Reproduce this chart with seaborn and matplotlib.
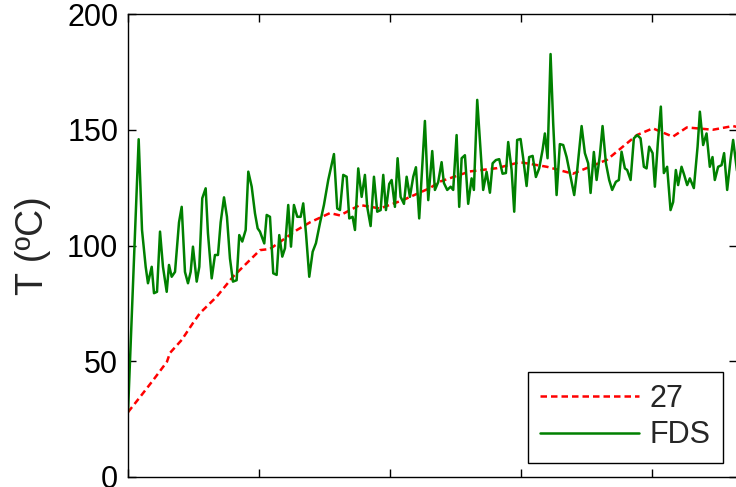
import matplotlib
matplotlib.use("Agg")
import matplotlib.pyplot as plt
import seaborn as sns
import pandas as pd
import numpy as np

# ---- data (time in s, temperature in ºC) ----
t_27 = [0, 18.8, 38.6, 59.5, 64.1, 82.0, 99.2, 109.9, 135.5, 160.3, 201.5, 216.8,
        258.0, 277.9, 308.4, 323.7, 354.2, 384.7, 419.8, 461.0, 476.3, 522.1,
        563.3, 598.5, 639.7, 679.4, 731.3, 777.1, 801.5, 832.0, 853.4, 893.1,
        923.6, 934.0]
T_27 = [28.0, 34.7, 41.9, 49.8, 53.6, 59.2, 66.5, 70.8, 77.9, 86.5, 98.0, 98.5,
        106.7, 110.0, 114.0, 113.0, 117.5, 116.0, 119.6, 124.8, 127.6, 132.0,
        133.4, 136.0, 134.0, 131.0, 137.0, 147.7, 150.6, 147.0, 151.0, 150.0,
        151.6, 151.0]

t_fds = [0, 16.3, 21.4, 27.0, 30.5, 36.2, 39.7, 44.3, 48.9, 53.4, 59.1, 62.6, 66.7,
         71.8, 77.9, 82.0, 87.0, 91.6, 95.7, 99.2, 104.9, 108.9, 113.4, 118.6,
         122.1, 127.8, 132.8, 137.4, 141.5, 146.6, 151.1, 155.7, 160.3, 165.9,
         169.9, 174.5, 179.7, 183.7, 188.9, 193.9, 198.0, 201.5, 208.1, 211.8,
         216.8, 221.8, 227.0, 231.0, 235.6, 239.7, 244.7, 248.9, 253.4, 258.5,
         263.7, 267.6, 271.8, 276.8, 282.0, 287.0, 293.1, 299.2, 305.8, 314.5,
         319.5, 323.7, 328.7, 333.9, 337.9, 343.0, 346.6, 351.6, 356.8, 361.8,
         365.3, 370.5, 375.6, 380.6, 385.8, 389.8, 393.9, 398.9, 402.6, 407.6,
         411.7, 416.3, 421.4, 425.5, 430.5, 435.6, 439.7, 444.7, 453.4, 458.5,
         464.6, 468.7, 473.7, 478.9, 482.4, 487.5, 492.7, 496.6, 501.8, 505.8,
         509.5, 514.5, 519.5, 524.7, 528.2, 533.3, 538.5, 542.4, 547.6, 552.7,
         556.8, 561.8, 566.9, 572.0, 577.1, 580.6, 585.8, 589.8, 594.3, 599.5,
         603.5, 608.7, 612.6, 617.9, 622.9, 627.9, 633.1, 636.6, 640.7, 645.3,
         649.3, 654.5, 659.5, 664.6, 669.8, 675.9, 681.4, 686.0, 692.7, 697.7,
         702.7, 706.4, 711.4, 715.6, 720.6, 724.7, 729.8, 734.8, 739.4, 745.0,
         749.6, 753.7, 758.8, 762.3, 767.5, 772.5, 777.6, 782.7, 787.8, 791.9,
         795.9, 801.1, 804.6, 809.1, 813.7, 818.3, 823.3, 828.5, 832.5, 836.6,
         840.1, 845.3, 848.8, 853.9, 858.0, 864.1, 869.8, 873.3, 878.3, 883.5,
         888.5, 892.6, 896.1, 901.2, 906.4, 910.3, 915.0, 920.2, 924.1, 931.0]
T_fds = [28.0, 145.9, 106.7, 90.8, 83.7, 90.8, 79.4, 80.0, 106.0, 90.8, 80.0, 91.6,
         86.5, 88.6, 110.0, 116.7, 88.6, 83.7, 88.6, 99.5, 84.4, 90.8, 120.4,
         124.7, 105.3, 85.8, 95.9, 95.9, 110.0, 120.8, 112.4, 94.4, 84.4, 85.0,
         104.5, 101.7, 106.7, 131.9, 125.4, 113.9, 107.4, 106.0, 100.9, 113.2,
         112.4, 88.0, 87.3, 104.5, 95.2, 98.8, 117.5, 99.5, 117.5, 112.4, 112.4,
         118.2, 105.3, 86.5, 97.3, 101.0, 109.6, 117.5, 128.3, 139.5, 116.0,
         115.3, 130.5, 129.7, 111.7, 112.4, 106.7, 133.3, 121.0, 130.5, 116.7,
         108.4, 129.7, 114.6, 115.3, 130.5, 115.3, 126.6, 128.3, 116.7, 137.7,
         121.0, 118.0, 129.7, 121.0, 129.7, 133.8, 111.7, 153.8, 119.6, 140.8,
         124.0, 127.4, 136.0, 127.0, 124.0, 125.4, 124.0, 147.7, 116.7, 137.7,
         139.0, 118.0, 129.0, 124.0, 162.9, 140.5, 124.0, 131.8, 122.8, 135.5,
         136.9, 137.3, 131.0, 131.3, 144.7, 132.6, 114.6, 145.6, 146.0, 137.7,
         125.7, 138.2, 138.7, 129.6, 133.3, 141.3, 148.4, 137.7, 182.7, 152.8,
         121.8, 143.8, 143.4, 138.2, 129.6, 121.8, 132.6, 151.6, 139.9, 135.5,
         122.7, 140.4, 128.3, 139.0, 151.6, 135.6, 128.3, 124.0, 127.5, 128.3,
         140.5, 133.3, 132.6, 128.3, 146.3, 147.7, 146.3, 134.0, 133.3, 142.7,
         139.9, 125.4, 144.3, 160.0, 131.3, 134.0, 115.3, 118.8, 132.6, 126.1,
         134.0, 131.0, 126.1, 129.0, 124.8, 142.7, 157.8, 143.4, 148.4, 134.0,
         138.2, 128.3, 134.0, 134.7, 139.9, 124.0, 137.3, 145.6, 130.0]

series_labels = ["27", "FDS"]
y_ticks = [0, 50, 100, 150, 200]
x_ticks = [0, 200, 400, 600, 800]

df27 = pd.DataFrame({"t": t_27, "T": T_27})
dffds = pd.DataFrame({"t": t_fds, "T": T_fds})

sns.set_theme(style="white")
plt.rcParams['font.family'] = ['Liberation Sans', 'DejaVu Sans']

fig = plt.figure(figsize=(7.36, 4.87), dpi=100)
ax = fig.add_axes([128/736, 1 - 477/487, (737 - 128)/736, (477 - 14)/487])

sns.lineplot(data=df27, x="t", y="T", ax=ax, color=(1, 0, 0), linewidth=1.8,
             linestyle=(0, (2.6, 1.6)), label=series_labels[0],
             estimator=None, sort=False)
sns.lineplot(data=dffds, x="t", y="T", ax=ax, color=(0, 0.5, 0), linewidth=1.8,
             label=series_labels[1], estimator=None, sort=False)

ax.set_xlim(0, 930)
ax.set_ylim(0, 200)
ax.set_xticks(x_ticks)
ax.set_yticks(y_ticks)
ax.set_xlabel("")
ax.set_ylabel("T (ºC)", fontsize=27)
ax.yaxis.set_label_coords(-0.126, 0.5)

for s in ax.spines.values():
    s.set_visible(True)
    s.set_color("black")
    s.set_linewidth(1.0)

ax.tick_params(axis="both", which="major", direction="in", length=6, width=1,
               color="black", top=True, right=True, bottom=True, left=True,
               labelsize=22, labelcolor="black", labelbottom=False, pad=7)

leg = ax.legend(loc="lower right", bbox_to_anchor=(722.7/736, 1 - 462.7/487),
                bbox_transform=fig.transFigure, fontsize=22, frameon=True,
                fancybox=False, shadow=False, handlelength=3.25,
                handletextpad=0.33, labelspacing=0.22, borderpad=0.4,
                borderaxespad=0)
leg.get_frame().set_edgecolor("black")
leg.get_frame().set_linewidth(1.0)
leg.get_frame().set_facecolor("white")
leg.get_frame().set_alpha(1)

fig.savefig("out.png", dpi=100)
